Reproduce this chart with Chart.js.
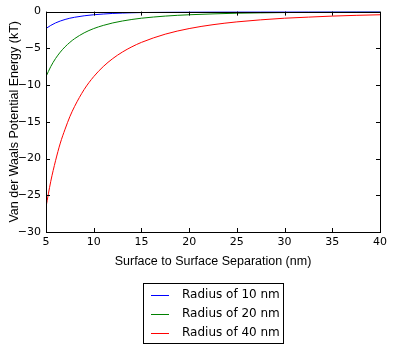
<!DOCTYPE html>
<html>
<head>
<meta charset="utf-8">
<script src="https://cdn.jsdelivr.net/npm/chart.js@4"></script>
<style>
  html, body { margin: 0; padding: 0; background: #fff; }
  #wrap { width: 393px; height: 350px; }
</style>
</head>
<body>
<div id="wrap"><canvas id="vdwChart" width="393" height="350"></canvas></div>
<script>
// Data
const separation = [5, 5.5, 6, 6.5, 7, 7.5, 8, 9, 10, 11, 12, 13, 14, 15, 17.5, 20, 22.5, 25, 27.5, 30, 32.5, 35, 37.5, 40];
const radius10 = [-2.3, -1.88, -1.54, -1.28, -1.07, -0.9, -0.77, -0.57, -0.43, -0.33, -0.25, -0.2, -0.16, -0.13, -0.08, -0.05, -0.03, -0.02, -0.015, -0.01, -0.01, -0.008, -0.005, -0.004];
const radius20 = [-8.85, -7.48, -6.39, -5.51, -4.79, -4.19, -3.68, -2.89, -2.31, -1.88, -1.54, -1.28, -1.07, -0.9, -0.61, -0.43, -0.31, -0.22, -0.17, -0.13, -0.1, -0.08, -0.06, -0.05];
const radius40 = [-26.6, -23.1, -20.3, -17.9, -16.0, -14.3, -12.9, -10.6, -8.85, -7.48, -6.39, -5.51, -4.79, -4.19, -3.07, -2.31, -1.78, -1.4, -1.12, -0.9, -0.75, -0.61, -0.51, -0.43];
const seriesLabels = ['Radius of 10 nm', 'Radius of 20 nm', 'Radius of 40 nm'];
const xTicks = [5, 10, 15, 20, 25, 30, 35, 40];
const yTicks = [-30, -25, -20, -15, -10, -5, 0];

const FONT = 'DejaVu Sans';
const TITLE_FONT = 'Liberation Sans';

function toPoints(ys) {
    return separation.map((x, i) => ({ x: x, y: ys[i] }));
}

function fmt(v) {
    return v < 0 ? '\u2212' + Math.abs(v) : String(v);
}

// ticks pointing inward on all four sides, matplotlib classic look
const innerTicks = {
    id: 'innerTicks',
    afterDatasetsDraw(chart) {
        const ctx = chart.ctx;
        const a = chart.chartArea;
        const xs = chart.scales.x, ys = chart.scales.y;
        const len = 4;
        ctx.save();
        ctx.strokeStyle = '#000';
        ctx.lineWidth = 1;
        ctx.beginPath();
        xTicks.forEach(v => {
            const px = Math.round(xs.getPixelForValue(v)) + 0.5;
            ctx.moveTo(px, a.bottom); ctx.lineTo(px, a.bottom - len);
            ctx.moveTo(px, a.top); ctx.lineTo(px, a.top + len);
        });
        yTicks.forEach(v => {
            const py = Math.round(ys.getPixelForValue(v)) + 0.5;
            ctx.moveTo(a.left, py); ctx.lineTo(a.left + len, py);
            ctx.moveTo(a.right, py); ctx.lineTo(a.right - len, py);
        });
        ctx.stroke();
        // frame
        ctx.strokeRect(Math.round(a.left) + 0.5, Math.round(a.top) + 0.5,
            Math.round(a.right - a.left), Math.round(a.bottom - a.top));
        ctx.restore();
    }
};

// boxed legend under the plot
const boxLegend = {
    id: 'boxLegend',
    afterDraw(chart) {
        const ctx = chart.ctx;
        const bx = 143, by = 283, bw = 140, bh = 60;
        ctx.save();
        ctx.strokeStyle = '#000';
        ctx.lineWidth = 1;
        ctx.strokeRect(bx + 0.5, by + 0.5, bw, bh);
        ctx.font = '12px "' + FONT + '"';
        ctx.textBaseline = 'middle';
        ctx.fillStyle = '#000';
        chart.data.datasets.forEach((ds, i) => {
            const cy = by + 11.5 + i * 19;
            ctx.strokeStyle = ds.borderColor;
            ctx.beginPath();
            ctx.moveTo(bx + 8, Math.round(cy) + 0.5);
            ctx.lineTo(bx + 26, Math.round(cy) + 0.5);
            ctx.stroke();
            ctx.fillText(ds.label, bx + 39, cy);
        });
        ctx.restore();
    }
};

new Chart(document.getElementById('vdwChart').getContext('2d'), {
    type: 'line',
    data: {
        datasets: [
            { label: seriesLabels[0], data: toPoints(radius10), borderColor: '#0000ff' },
            { label: seriesLabels[1], data: toPoints(radius20), borderColor: '#008000' },
            { label: seriesLabels[2], data: toPoints(radius40), borderColor: '#ff0000' }
        ].map(d => Object.assign(d, {
            borderWidth: 1,
            pointRadius: 0,
            fill: false,
            cubicInterpolationMode: 'monotone'
        }))
    },
    options: {
        responsive: false,
        animation: false,
        layout: { padding: { left: 3, top: 8, right: 13, bottom: 77 } },
        plugins: {
            legend: { display: false },
            tooltip: { enabled: false }
        },
        scales: {
            x: {
                type: 'linear',
                min: 5,
                max: 40,
                afterBuildTicks: s => { s.ticks = xTicks.map(v => ({ value: v })); },
                afterFit: s => { s.height = 41; },
                grid: { display: false, drawTicks: false },
                border: { display: false },
                ticks: {
                    color: '#000',
                    padding: 4,
                    maxRotation: 0,
                    font: { family: FONT, size: 11 },
                    callback: v => fmt(v)
                },
                title: {
                    display: true,
                    text: 'Surface to Surface Separation (nm)',
                    color: '#000',
                    font: { family: TITLE_FONT, size: 12.5 },
                    padding: { top: 4, bottom: 4 }
                }
            },
            y: {
                min: -30,
                max: 0,
                afterBuildTicks: s => { s.ticks = yTicks.map(v => ({ value: v })); },
                afterFit: s => { s.width = 43; },
                grid: { display: false, drawTicks: false },
                border: { display: false },
                ticks: {
                    color: '#000',
                    padding: 5,
                    font: { family: FONT, size: 11 },
                    callback: v => fmt(v)
                },
                title: {
                    display: true,
                    text: 'Van der Waals Potential Energy (kT)',
                    color: '#000',
                    font: { family: TITLE_FONT, size: 12.5 },
                    padding: { top: 4, bottom: 4 }
                }
            }
        }
    },
    plugins: [innerTicks, boxLegend]
});
</script>
</body>
</html>
